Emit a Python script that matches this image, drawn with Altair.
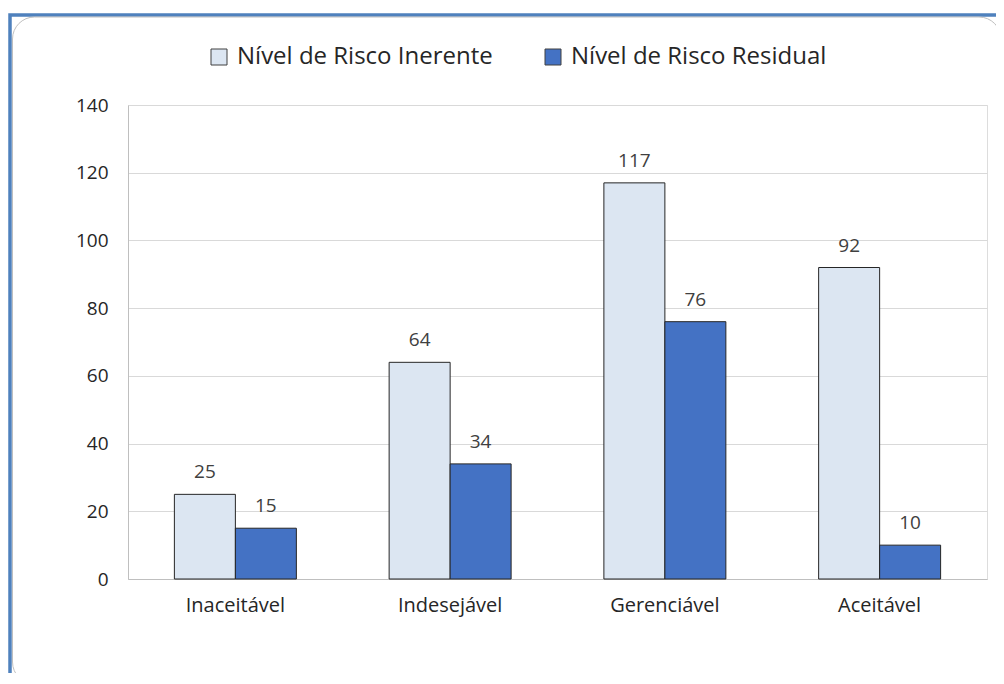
import altair as alt
import pandas as pd

categorias = ["Inaceitável", "Indesejável", "Gerenciável", "Aceitável"]
series = ["Nível de Risco Inerente", "Nível de Risco Residual"]
inerente = [25, 64, 117, 92]
residual = [15, 34, 76, 10]
y_ticks = [0, 20, 40, 60, 80, 100, 120, 140]
cores = ["#DCE6F2", "#4472C4"]

rows = []
for c, a, b in zip(categorias, inerente, residual):
    rows.append({"categoria": c, "serie": series[0], "valor": a})
    rows.append({"categoria": c, "serie": series[1], "valor": b})
df = pd.DataFrame(rows)

FONT = "Open Sans"
W, H = 859, 474

frame_df = pd.DataFrame({"k": [0]})
frame_blue = alt.Chart(frame_df).mark_rect(
    fill="transparent", stroke="#4F81BD", strokeWidth=3.5
).encode(
    x=alt.value(-118), x2=alt.value(W + 100),
    y=alt.value(-90), y2=alt.value(H + 200),
)
frame_grey = alt.Chart(frame_df).mark_rect(
    fill="transparent", stroke="#BFBFBF", strokeWidth=1, cornerRadius=22
).encode(
    x=alt.value(-115.5), x2=alt.value(W + 14),
    y=alt.value(-88), y2=alt.value(H + 105),
)

x_enc = alt.X(
    "categoria:N", sort=categorias, title=None,
    scale=alt.Scale(paddingInner=0.432, paddingOuter=0.216),
    axis=alt.Axis(labelAngle=0, ticks=False, domainColor="#BFBFBF",
                  labelFontSize=20, labelColor="#262626", labelPadding=16,
                  labelFont=FONT, grid=False),
)
xo_enc = alt.XOffset("serie:N", sort=series, scale=alt.Scale(paddingInner=0, paddingOuter=0))
y_enc = alt.Y(
    "valor:Q", title=None,
    scale=alt.Scale(domain=[0, 140], nice=False),
    axis=alt.Axis(values=y_ticks, ticks=False, domainColor="#BFBFBF",
                  gridColor="#D9D9D9", labelFontSize=19, labelColor="#262626",
                  labelPadding=20, labelFont=FONT),
)

bars = alt.Chart(df).mark_bar(stroke="#262626", strokeWidth=1).encode(
    x=x_enc, xOffset=xo_enc, y=y_enc,
    color=alt.Color(
        "serie:N", sort=series, title=None,
        scale=alt.Scale(domain=series, range=cores),
        legend=alt.Legend(
            orient="none", legendX=79, legendY=-60, direction="horizontal",
            symbolType="square", symbolSize=256, symbolStrokeColor="#404040",
            symbolStrokeWidth=1, labelFontSize=24, labelFont=FONT,
            labelColor="#262626", columnPadding=48, labelOffset=6,
            labelLimit=400,
        ),
    ),
)

labels = alt.Chart(df).mark_text(
    dy=-16, baseline="alphabetic", fontSize=19, font=FONT, color="#404040"
).encode(
    x=alt.X("categoria:N", sort=categorias),
    xOffset=alt.XOffset("serie:N", sort=series),
    y="valor:Q",
    text="valor:Q",
)

chart = alt.layer(frame_blue, frame_grey, bars, labels).properties(
    width=W, height=H,
    autosize=alt.AutoSizeParams(type="none"),
    padding={"left": 120, "top": 97, "right": 9, "bottom": 94},
).configure_view(strokeWidth=0).configure(background="white")

chart.save("out.html", embed_options={"renderer": "svg", "actions": False})
